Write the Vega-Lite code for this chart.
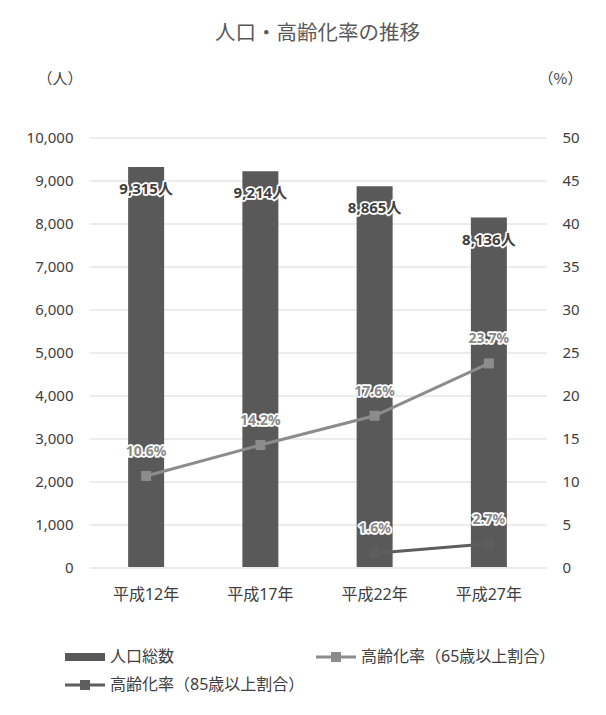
{
  "$schema": "https://vega.github.io/schema/vega-lite/v6.json",
  "autosize": {"type": "none"},
  "width": 457,
  "height": 429.5,
  "padding": {"left": 89, "top": 137.5, "right": 60, "bottom": 148},
  "background": "white",
  "title": {
    "text": "人口・高齢化率の推移",
    "fontSize": 20.5,
    "font": "Noto Sans CJK JP",
    "fontWeight": "normal",
    "color": "#595959",
    "anchor": "middle",
    "frame": "group",
    "offset": 27
  },
  "datasets": {
    "pop": [
      {"year": "平成12年", "series": "人口総数", "value": 9315, "label": "9,315人"},
      {"year": "平成17年", "series": "人口総数", "value": 9214, "label": "9,214人"},
      {"year": "平成22年", "series": "人口総数", "value": 8865, "label": "8,865人"},
      {"year": "平成27年", "series": "人口総数", "value": 8136, "label": "8,136人"}
    ],
    "rate": [
      {"year": "平成12年", "series": "高齢化率（65歳以上割合）", "value": 10.6, "label": "10.6%"},
      {"year": "平成17年", "series": "高齢化率（65歳以上割合）", "value": 14.2, "label": "14.2%"},
      {"year": "平成22年", "series": "高齢化率（65歳以上割合）", "value": 17.6, "label": "17.6%"},
      {"year": "平成27年", "series": "高齢化率（65歳以上割合）", "value": 23.7, "label": "23.7%"},
      {"year": "平成22年", "series": "高齢化率（85歳以上割合）", "value": 1.6, "label": "1.6%"},
      {"year": "平成27年", "series": "高齢化率（85歳以上割合）", "value": 2.7, "label": "2.7%"}
    ]
  },
  "config": {
    "view": {"stroke": null},
    "font": "Noto Sans, Noto Sans CJK JP",
    "axis": {
      "labelFont": "Noto Sans, Noto Sans CJK JP",
      "labelFontSize": 15,
      "labelColor": "#404040",
      "titleFont": "Noto Sans CJK JP",
      "titleFontSize": 15,
      "titleFontWeight": "normal",
      "titleColor": "#404040",
      "domain": false,
      "ticks": false
    }
  },
  "resolve": {"scale": {"y": "independent"}},
  "layer": [
    {
      "data": {"name": "pop"},
      "encoding": {
        "x": {
          "field": "year", "type": "nominal", "sort": null,
          "scale": {"paddingInner": 0.685, "paddingOuter": 0.3425},
          "axis": {"title": null, "labelAngle": 0, "labelPadding": 19, "labelFontSize": 16, "grid": false}
        },
        "y": {
          "field": "value", "type": "quantitative",
          "scale": {"domain": [0, 10000]},
          "axis": {
            "orient": "left",
            "values": [0, 1000, 2000, 3000, 4000, 5000, 6000, 7000, 8000, 9000, 10000],
            "format": ",d",
            "grid": true,
            "gridColor": "#d9d9d9",
            "gridWidth": 1,
            "labelPadding": 16,
            "title": "（人）",
            "titleAngle": 0,
            "titleAlign": "right",
            "titleBaseline": "middle",
            "titleX": -7,
            "titleY": -59.5
          }
        }
      },
      "layer": [
        {
          "mark": {"type": "bar"},
          "encoding": {
            "color": {
              "field": "series",
              "type": "nominal",
              "title": null,
              "scale": {
                "domain": ["人口総数", "高齢化率（65歳以上割合）", "高齢化率（85歳以上割合）"],
                "range": ["#595959", "#8c8c8c", "#5e5e5e"]
              },
              "legend": {
                "orient": "none",
                "legendX": -24,
                "legendY": 499.5,
                "direction": "horizontal",
                "columns": 2,
                "columnPadding": 11,
                "rowPadding": -7,
                "title": null,
                "labelFont": "Noto Sans, Noto Sans CJK JP",
                "labelFontSize": 16,
                "labelColor": "#404040",
                "labelOffset": 5,
                "labelLimit": 400,
                "symbolSize": 1600,
                "symbolStrokeWidth": 0,
                "encode": {
                  "symbols": {
                    "update": {
                      "shape": {"signal": "datum.value === '人口総数' ? 'M-1,-0.2H1V0.2H-1Z' : 'M-1,-0.075H1V0.075H-1Z M-0.25,-0.25H0.25V0.25H-0.25Z'"},
                      "fill": {"signal": "scale('color', datum.value)"},
                      "strokeWidth": {"value": 0},
                      "opacity": {"value": 1}
                    }
                  }
                }
              }
            }
          }
        },
        {
          "mark": {"type": "text", "dy": 22, "fontSize": 15, "fontWeight": "bold", "fill": "white", "stroke": "white", "strokeWidth": 3.5, "strokeJoin": "round"},
          "encoding": {"text": {"field": "label"}}
        },
        {
          "mark": {"type": "text", "dy": 22, "fontSize": 15, "fontWeight": "bold", "fill": "#404040"},
          "encoding": {"text": {"field": "label"}}
        }
      ]
    },
    {
      "data": {"name": "rate"},
      "encoding": {
        "x": {"field": "year", "type": "nominal", "sort": null},
        "y": {
          "field": "value", "type": "quantitative",
          "scale": {"domain": [0, 50]},
          "axis": {
            "orient": "right",
            "values": [0, 5, 10, 15, 20, 25, 30, 35, 40, 45, 50],
            "grid": false,
            "labelPadding": 16,
            "title": "（%）",
            "titleAngle": 0,
            "titleAlign": "center",
            "titleBaseline": "middle",
            "titleX": 14,
            "titleY": -59.5
          }
        }
      },
      "layer": [
        {
          "mark": {"type": "line", "strokeWidth": 3},
          "encoding": {
            "color": {"field": "series", "type": "nominal", "title": null},
            "detail": {"field": "series"}
          }
        },
        {
          "mark": {"type": "point", "shape": "square", "filled": true, "opacity": 1, "size": 100},
          "encoding": {"color": {"field": "series", "type": "nominal", "title": null}}
        },
        {
          "mark": {"type": "text", "dy": -24, "fontSize": 14, "fontWeight": "bold", "fill": "white", "stroke": "white", "strokeWidth": 3.5, "strokeJoin": "round"},
          "encoding": {"text": {"field": "label"}}
        },
        {
          "mark": {"type": "text", "dy": -24, "fontSize": 14, "fontWeight": "bold", "fill": "#8a8a8a"},
          "encoding": {"text": {"field": "label"}}
        }
      ]
    }
  ]
}
